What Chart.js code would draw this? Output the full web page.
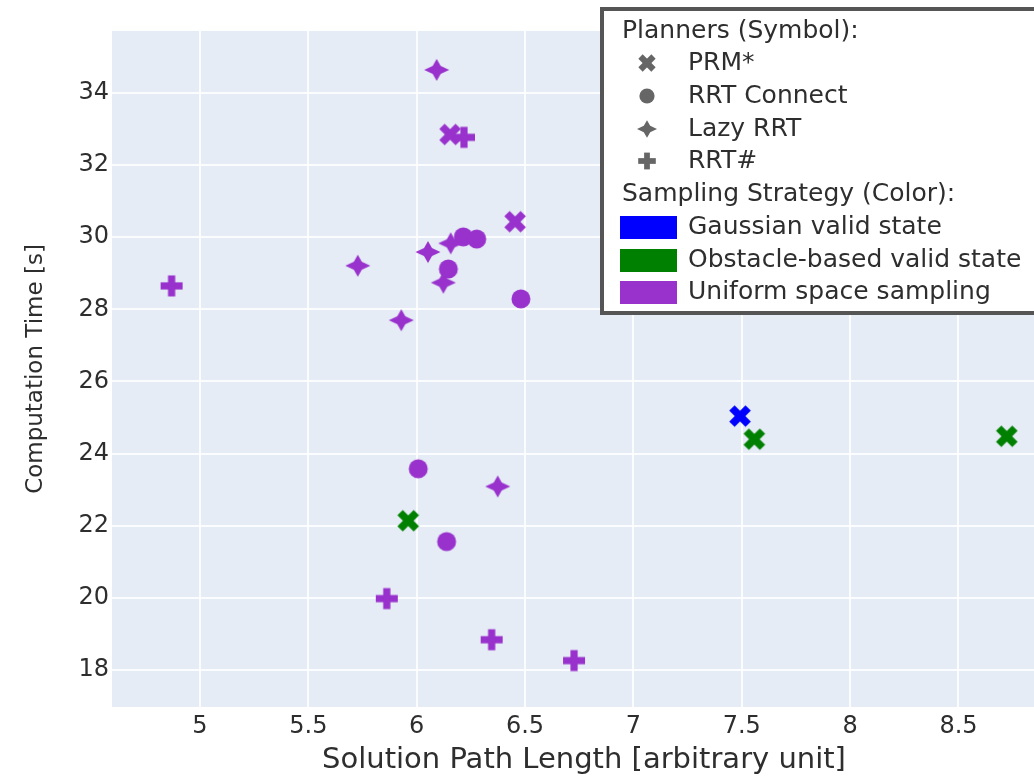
<!DOCTYPE html>
<html>
<head>
<meta charset="utf-8">
<script src="https://cdn.jsdelivr.net/npm/chart.js@4.4.0/dist/chart.umd.min.js"></script>
<style>
  html, body { margin: 0; padding: 0; background: #fff; overflow: hidden; }
  #wrap { width: 1034px; height: 781px; overflow: hidden; }
</style>
</head>
<body>
<div id="wrap"><canvas id="scatterChart" width="1067" height="781"></canvas></div>
<script>
// data: [path length, computation time, sampling strategy]
const prmX = [6.154, 6.454, 7.492, 7.558, 8.723, 5.961];
const prmY = [32.85, 30.43, 25.04, 24.40, 24.48, 22.14];
const prmS = ['uniform', 'uniform', 'gaussian', 'obstacle', 'obstacle', 'obstacle'];

const connectX = [6.215, 6.277, 6.146, 6.481, 6.007, 6.138];
const connectY = [30.01, 29.95, 29.12, 28.29, 23.58, 21.56];
const connectS = ['uniform', 'uniform', 'uniform', 'uniform', 'uniform', 'uniform'];

const lazyX = [6.092, 6.157, 6.052, 5.728, 6.123, 5.929, 6.374];
const lazyY = [34.64, 29.83, 29.59, 29.21, 28.74, 27.70, 23.09];
const lazyS = ['uniform', 'uniform', 'uniform', 'uniform', 'uniform', 'uniform', 'uniform'];

const sharpX = [6.218, 4.869, 5.862, 6.346, 6.726];
const sharpY = [32.77, 28.65, 19.98, 18.84, 18.26];
const sharpS = ['uniform', 'uniform', 'uniform', 'uniform', 'uniform'];

const planners = ['PRM*', 'RRT Connect', 'Lazy RRT', 'RRT#'];
const strategies = ['Gaussian valid state', 'Obstacle-based valid state', 'Uniform space sampling'];
const strategyColors = { gaussian: '#0000ff', obstacle: '#008000', uniform: '#9932cc' };
const xTicks = [5, 5.5, 6, 6.5, 7, 7.5, 8, 8.5];
const yTicks = [18, 20, 22, 24, 26, 28, 30, 32, 34];

const FONT = '"DejaVu Sans", sans-serif';
const TEXT = '#2e2e2e';

// marker shapes, drawn once per colour into little canvases
function drawShape(ctx, shape, k) {
  ctx.beginPath();
  if (shape === 'circle') {
    ctx.arc(0, 0, 9.5 * k, 0, Math.PI * 2);
    ctx.fill();
  } else if (shape === 'x') {
    ctx.rotate(Math.PI / 4);
    ctx.fillRect(-11.5 * k, -3.8 * k, 23 * k, 7.6 * k);
    ctx.fillRect(-3.8 * k, -11.5 * k, 7.6 * k, 23 * k);
  } else if (shape === 'plus') {
    ctx.fillRect(-11 * k, -3.6 * k, 22 * k, 7.2 * k);
    ctx.fillRect(-3.6 * k, -10.5 * k, 7.2 * k, 21 * k);
  } else if (shape === 'star') {
    const a = 12.5 * k, b = 11 * k, c = 4 * k;
    ctx.moveTo(a, 0); ctx.lineTo(c, c); ctx.lineTo(0, b); ctx.lineTo(-c, c);
    ctx.lineTo(-a, 0); ctx.lineTo(-c, -c); ctx.lineTo(0, -b); ctx.lineTo(c, -c);
    ctx.closePath();
    ctx.fill();
  }
}

function markerImage(shape, color, k = 1) {
  const c = document.createElement('canvas');
  c.width = 30; c.height = 30;
  const ctx = c.getContext('2d');
  ctx.fillStyle = color;
  ctx.translate(15, 15);
  drawShape(ctx, shape, k);
  return c;
}

function makeDataset(label, shape, xs, ys, ss) {
  return {
    label: label,
    data: xs.map((x, i) => ({ x: x, y: ys[i] })),
    pointStyle: ss.map(s => markerImage(shape, strategyColors[s])),
    pointRadius: 10,
    pointHoverRadius: 10
  };
}

const plotBg = {
  id: 'plotBg',
  beforeDraw(chart) {
    const { ctx, chartArea: a } = chart;
    ctx.save();
    ctx.fillStyle = '#e5ecf6';
    ctx.fillRect(a.left, a.top, a.right - a.left, a.bottom - a.top);
    ctx.restore();
  }
};

// legend box in the top right corner, as in the plotly original
const legendBox = {
  id: 'legendBox',
  afterDraw(chart) {
    const ctx = chart.ctx;
    ctx.save();
    ctx.fillStyle = '#fff';
    ctx.fillRect(602, 9, 460, 304);
    ctx.strokeStyle = '#555';
    ctx.lineWidth = 4;
    ctx.strokeRect(602, 9, 460, 304);

    ctx.font = '25px ' + FONT;
    ctx.fillStyle = TEXT;
    ctx.textBaseline = 'middle';
    ctx.fillText('Planners (Symbol):', 622, 31);
    const shapes = ['x', 'circle', 'star', 'plus'];
    const rowY = [63, 96, 129, 161];
    planners.forEach((p, i) => {
      ctx.save();
      ctx.translate(647, rowY[i]);
      ctx.fillStyle = '#666';
      drawShape(ctx, shapes[i], 0.8);
      ctx.restore();
      ctx.fillText(p, 688, rowY[i]);
    });
    ctx.fillText('Sampling Strategy (Color):', 622, 194);
    const swatch = ['#0000ff', '#008000', '#9932cc'];
    const rowY2 = [227, 260, 292];
    strategies.forEach((s, i) => {
      ctx.fillStyle = swatch[i];
      ctx.fillRect(620, rowY2[i] - 11, 57, 23);
      ctx.fillStyle = TEXT;
      ctx.fillText(s, 688, rowY2[i]);
    });
    ctx.restore();
  }
};

const ctx = document.getElementById('scatterChart').getContext('2d');
new Chart(ctx, {
  type: 'scatter',
  data: {
    datasets: [
      makeDataset('PRM*', 'x', prmX, prmY, prmS),
      makeDataset('RRT Connect', 'circle', connectX, connectY, connectS),
      makeDataset('Lazy RRT', 'star', lazyX, lazyY, lazyS),
      makeDataset('RRT#', 'plus', sharpX, sharpY, sharpS)
    ]
  },
  options: {
    responsive: false,
    animation: false,
    devicePixelRatio: 1,
    layout: { padding: { top: 31, left: 0, right: 0, bottom: 0 } },
    plugins: {
      legend: { display: false },
      tooltip: { enabled: false }
    },
    scales: {
      x: {
        type: 'linear',
        min: 4.594,
        max: 8.950,
        afterFit: s => { s.height = 74; },
        afterBuildTicks: s => { s.ticks = xTicks.map(v => ({ value: v })); },
        ticks: {
          padding: 5,
          color: TEXT,
          font: { family: FONT, size: 24 },
          callback: v => String(v)
        },
        grid: { color: 'rgba(255,255,255,0.85)', lineWidth: 2, drawTicks: false },
        border: { display: false },
        title: {
          display: true,
          text: 'Solution Path Length [arbitrary unit]',
          color: TEXT,
          font: { family: FONT, size: 29 },
          padding: { top: 0, bottom: 3 }
        }
      },
      y: {
        min: 16.974,
        max: 35.719,
        afterFit: s => { s.width = 112; },
        afterBuildTicks: s => { s.ticks = yTicks.map(v => ({ value: v })); },
        ticks: { padding: 3, color: TEXT, font: { family: FONT, size: 24 } },
        grid: { color: 'rgba(255,255,255,0.85)', lineWidth: 2, drawTicks: false },
        border: { display: false },
        title: {
          display: true,
          text: 'Computation Time [s]',
          color: TEXT,
          font: { family: FONT, size: 23 },
          padding: { top: 22, bottom: 0 }
        }
      }
    }
  },
  plugins: [plotBg, legendBox]
});
</script>
</body>
</html>
